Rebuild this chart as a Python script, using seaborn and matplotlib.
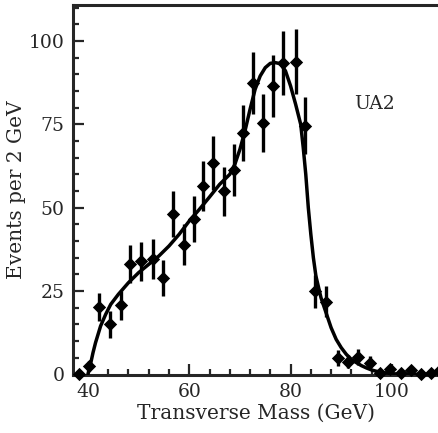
import matplotlib
matplotlib.use("Agg")
import matplotlib.pyplot as plt
from matplotlib.ticker import MultipleLocator
import seaborn as sns
import pandas as pd

# measured points (transverse mass, events per 2 GeV, error)
mass = [38.3, 40.3, 42.1, 44.3, 46.5, 48.4, 50.5, 52.8, 54.8, 56.8, 58.9, 60.9,
        62.8, 64.7, 66.8, 68.8, 70.6, 72.5, 74.6, 76.5, 78.6, 81.0, 82.8, 84.8,
        87.0, 89.3, 91.3, 93.4, 95.6, 97.6, 99.7, 101.7, 103.7, 105.7, 107.7, 109.3]
events = [0, 2.5, 20.1, 15.0, 20.7, 33.0, 33.9, 34.6, 29.0, 48.1, 38.9, 46.6,
          56.6, 63.4, 54.9, 61.4, 72.4, 87.4, 75.5, 86.6, 93.4, 93.8, 74.6, 24.9,
          21.8, 4.9, 3.8, 5.2, 3.5, 0.5, 1.6, 0.3, 1.2, 0.2, 0.5, 1.0]
errors = [0, 1.5, 4.2, 4.0, 4.3, 5.7, 5.8, 5.9, 5.4, 6.9, 6.2, 6.8,
          7.5, 8.0, 7.4, 7.8, 8.5, 9.3, 8.7, 9.3, 9.7, 9.7, 8.6, 5.0,
          4.7, 2.3, 2.0, 2.3, 1.9, 0, 0, 0, 0, 0, 0, 0]

# fitted curve
fit_x = [40.0, 40.5, 41.0, 41.5, 42.0, 42.5, 43.5, 44.5, 46, 48, 50, 52, 54, 56,
         58, 60, 62, 64, 66, 68, 69, 70, 71, 72, 73, 74, 75, 76, 77, 78, 79, 80,
         81, 82, 82.5, 83, 83.5, 84, 84.5, 85, 86, 87, 88, 89, 90, 91, 92, 93,
         94, 95, 96, 97, 98, 100, 102, 110]
fit_y = [0, 3, 6.5, 9.5, 12, 14.5, 18, 21, 24, 27.5, 30.5, 33, 35.5, 38.5,
         42, 46, 49.5, 53.2, 57, 60, 63, 67.5, 73, 79.5, 85.5, 89.5, 92, 93.3, 93.5, 93.2, 91, 86.5,
         81, 75, 68, 60, 50, 42, 35, 29.5, 23, 18.5, 14, 10.5, 8, 6, 4.5, 3.5,
         2.6, 1.9, 1.3, 0.9, 0.6, 0.2, 0, 0]

sns.set_style("ticks")
plt.rcParams['font.family'] = ['DejaVu Serif']

df = pd.DataFrame({"mass": mass, "events": events, "err": errors})
fit = pd.DataFrame({"mass": fit_x, "events": fit_y})

fig = plt.figure(figsize=(4.39, 4.33), dpi=100)
ax = fig.add_axes([73 / 439, 58 / 433, 366 / 439, 370 / 433])

sns.lineplot(data=fit, x="mass", y="events", ax=ax, color="black", lw=2.5, zorder=3)
ax.errorbar(df["mass"], df["events"], yerr=df["err"], fmt="none",
            ecolor="black", elinewidth=2.4, capsize=0, zorder=4, clip_on=False)
sns.scatterplot(data=df, x="mass", y="events", ax=ax, marker="D", s=46,
                color="black", edgecolor="black", linewidth=0, zorder=5, clip_on=False)

ax.set_xlim(37.05, 109.3)
ax.set_ylim(-0.2, 110.8)
ax.xaxis.set_major_locator(MultipleLocator(20))
ax.xaxis.set_minor_locator(MultipleLocator(4))
ax.yaxis.set_major_locator(MultipleLocator(25))
ax.yaxis.set_minor_locator(MultipleLocator(5))
ax.tick_params(which="both", direction="in", width=1.6, labelsize=13.5)
ax.tick_params(which="major", length=8, pad=6)
ax.tick_params(which="minor", length=4)

for s in ["left", "bottom", "top"]:
    ax.spines[s].set_linewidth(2.2)
ax.spines["right"].set_visible(False)

ax.set_xlabel("Transverse Mass (GeV)", fontsize=14.5, labelpad=2)
ax.set_ylabel("Events per 2 GeV", fontsize=14.5, labelpad=2)
ax.text(96.6, 81.1, "UA2", fontsize=13.5, ha="center", va="center")

fig.savefig("out.png", dpi=100)
